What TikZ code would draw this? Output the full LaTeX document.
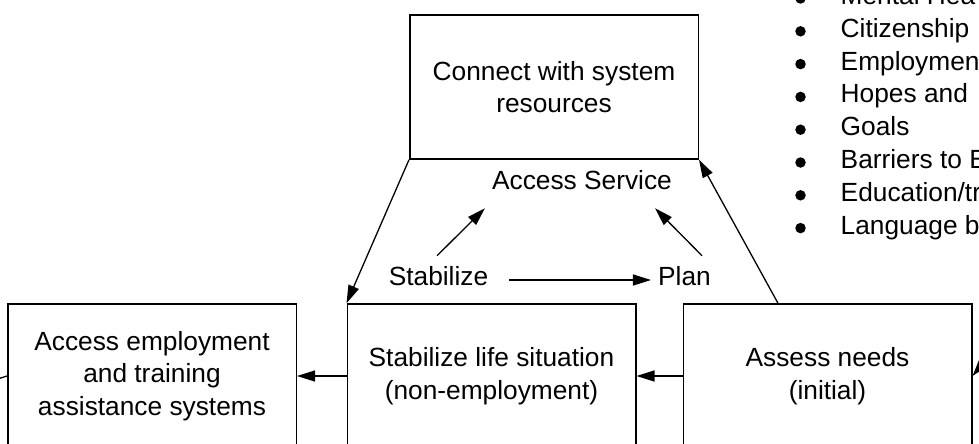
\documentclass[tikz,border=0pt]{standalone}
\usepackage{fontspec}
\setmainfont{Liberation Sans}
\usetikzlibrary{arrows.meta}
\begin{document}
\begin{tikzpicture}[x=1pt,y=-1pt,
  box/.style={draw,line width=1.5pt,minimum width=288.5pt,minimum height=144pt,inner sep=0pt,align=center,font=\fontsize{26.3}{32.5}\selectfont},
  lbl/.style={inner sep=0pt,font=\fontsize{26.3}{32.5}\selectfont},
  dot/.style={circle,fill,inner sep=0pt,minimum size=10.5pt},
  arr/.style={line width=1.3pt,-{Triangle[length=18pt,width=11pt]}},
  ln/.style={line width=1.3pt}]
\useasboundingbox (0,0) rectangle (979,444);
\clip (0,0) rectangle (979,444);
\fill[white] (0,0) rectangle (979,444);
% boxes
\node[box] (top) at (554,87) {Connect with system\\resources};
\node[box] (left) at (152,376) {Access employment\\and training\\assistance systems};
\node[box] (mid) at (491.5,376) {Stabilize life situation\\(non-employment)};
\node[box] (right) at (827.5,376) {Assess needs\\(initial)};
% labels
\node[lbl] (access) at (582,180) {Access Service};
\node[lbl] (stab) at (438.5,275.6) {Stabilize};
\node[lbl] (plan) at (684.5,275.6) {Plan};
% arrows
\draw[arr,shorten <=21pt,shorten >=7pt] ([yshift=-4.4pt]stab.east) -- ([yshift=-4.4pt]plan.west);
\draw[arr] ([shift={(-1.5pt,10pt)}]stab.north) -- ([shift={(-7pt,-18.4pt)}]access.south west);
\draw[arr] ([shift={(17.5pt,10pt)}]plan.north) -- ([shift={(-17pt,-18.4pt)}]access.south east);
\draw[arr] (top.south west) -- (mid.north west);
\draw[arr] ([xshift=-49.5pt]right.north) -- (top.south east);
\draw[arr] (mid.west) -- (left.east);
\draw[arr] (right.west) -- (mid.east);
\coordinate (offL) at (-40,391);
\draw[ln] (offL) -- (left.west);
\coordinate (offR) at (1012,328);
\draw[arr] (offR) -- (right.east);
% bullet list
\foreach \t [count=\i] in {Mental Hea,Citizenship,Employmen,Hopes and,Goals,Barriers to E,Education/tr,Language b} {
  \node[dot] (b\i) at (800.5,{4.5+32.8*(\i-1)-6}) {};
  \node[lbl,anchor=base west] (t\i) at (840.5,{4.5+32.8*(\i-1)}) {\t};
}
\end{tikzpicture}
\end{document}
